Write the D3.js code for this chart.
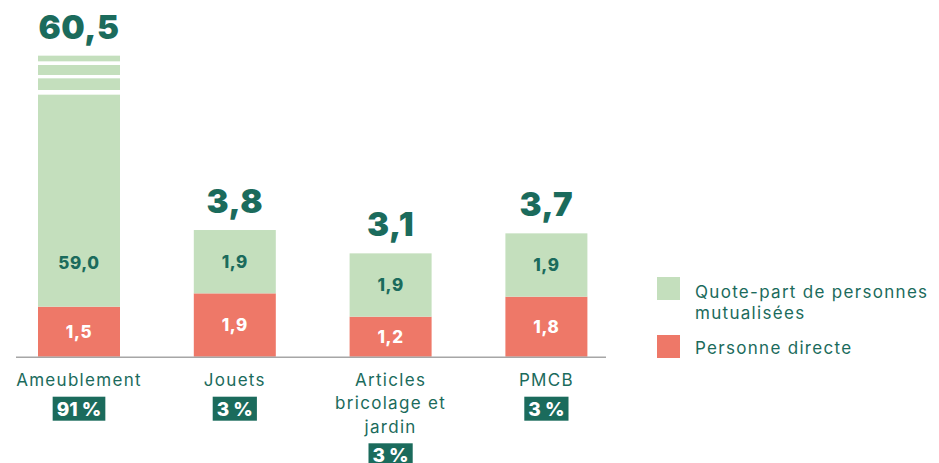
<!DOCTYPE html>
<html><head><meta charset="utf-8">
<script src="https://cdn.jsdelivr.net/npm/d3@7"></script>
<style>
body{margin:0;background:#fff;}
svg{display:block;font-family:"Inter","Noto Sans",sans-serif;}
</style></head>
<body><svg id="c" width="939" height="463"></svg>
<script>
const categories = [["Ameublement"], ["Jouets"], ["Articles", "bricolage et", "jardin"], ["PMCB"]];
const direct = [1.5, 1.9, 1.2, 1.8];
const mutualised = [59.0, 1.9, 1.9, 1.9];
const totals = ["60,5", "3,8", "3,1", "3,7"];
const shares = ["91 %", "3 %", "3 %", "3 %"];
const seriesNames = ["Quote-part de personnes mutualisées", "Personne directe"];

const GREEN = "#c4dfbd", RED = "#ee7868", TEAL = "#1b6b5c", AX = "#a6a6a6";
const svg = d3.select("#c");
const fmt = v => v.toFixed(1).replace(".", ",");

const W = 82, STEP = 155.8;
const x = d3.scaleBand().domain(d3.range(categories.length))
  .range([38, 38 + 3 * STEP + W])
  .paddingInner((STEP - W) / STEP).paddingOuter(0);
const y = d3.scaleLinear().domain([0, 9.05]).range([356.7, 55]);
const cap = 7.86;            // visible limit for the broken bar
const breakPieces = [[8.0, 8.35], [8.45, 8.75], [8.86, 9.03]];

const g = svg.append("g");
categories.forEach((c, i) => {
  const x0 = x(i), bw0 = x.bandwidth(), cx = x0 + bw0 / 2;
  const total = direct[i] + mutualised[i];
  const broken = total > cap;
  g.append("rect").attr("x", x0).attr("width", bw0).attr("y", y(direct[i])).attr("height", y(0) - y(direct[i])).attr("fill", RED);
  const gTop = broken ? cap : total;
  g.append("rect").attr("x", x0).attr("width", bw0).attr("y", y(gTop)).attr("height", y(direct[i]) - y(gTop)).attr("fill", GREEN);
  if (broken) {
    breakPieces.forEach(p => g.append("rect").attr("x", x0).attr("width", bw0).attr("y", y(p[1])).attr("height", y(p[0]) - y(p[1])).attr("fill", GREEN));
  }
  const topVal = broken ? breakPieces[breakPieces.length - 1][1] : total;
  g.append("text").attr("x", cx).attr("y", y(topVal) - 17).attr("text-anchor", "middle")
    .attr("font-size", 33).attr("font-weight", 900).attr("letter-spacing", 0.5).attr("fill", TEAL).text(totals[i]);
  g.append("text").attr("x", cx).attr("y", y(direct[i] / 2)).attr("dy", "0.36em").attr("text-anchor", "middle")
    .attr("font-size", 17).attr("font-weight", 800).attr("letter-spacing", 0.6).attr("fill", "#fff").text(fmt(direct[i]));
  const gMid = broken ? direct[i] + 1.3 : direct[i] + mutualised[i] / 2;
  g.append("text").attr("x", cx).attr("y", y(gMid)).attr("dy", "0.36em").attr("text-anchor", "middle")
    .attr("font-size", 17).attr("font-weight", 800).attr("letter-spacing", 0.6).attr("fill", TEAL).text(fmt(mutualised[i]));
  c.forEach((line, k) => {
    g.append("text").attr("x", cx).attr("y", 380 + k * 23.3).attr("dy", "0.35em").attr("text-anchor", "middle")
      .attr("font-size", 17).attr("fill", TEAL).attr("letter-spacing", 1.3).text(line);
  });
  const by = 380 + (c.length - 1) * 23.3 + 16.7;
  const t = g.append("text").attr("x", cx).attr("y", by + 12).attr("dy", "0.36em").attr("text-anchor", "middle")
    .attr("font-size", 19).attr("font-weight", 800).attr("fill", "#fff").text(shares[i]);
  const bw = t.node().getComputedTextLength() + 8;
  g.append("rect").attr("x", cx - bw / 2).attr("y", by).attr("width", bw).attr("height", 24).attr("fill", TEAL);
  t.raise();
});
g.append("line").attr("x1", 16).attr("x2", 606).attr("y1", y(0) + 0.5).attr("y2", y(0) + 0.5).attr("stroke", AX).attr("stroke-width", 1.5);

const leg = svg.append("g").attr("transform", "translate(657,0)");
leg.append("rect").attr("x", 0).attr("y", 277).attr("width", 23).attr("height", 23).attr("fill", GREEN);
leg.append("rect").attr("x", 0).attr("y", 335).attr("width", 23).attr("height", 23).attr("fill", RED);
const lt = leg.append("text").attr("x", 38).attr("font-size", 17).attr("fill", TEAL).attr("letter-spacing", 1.3);
lt.append("tspan").attr("x", 38).attr("y", 291.7).attr("dy", "0.35em").text("Quote-part de personnes");
lt.append("tspan").attr("x", 38).attr("y", 313.3).attr("dy", "0.35em").text("mutualisées");
leg.append("text").attr("x", 38).attr("y", 348.3).attr("dy", "0.35em").attr("font-size", 17).attr("fill", TEAL).attr("letter-spacing", 1.3).text(seriesNames[1]);
</script></body></html>
